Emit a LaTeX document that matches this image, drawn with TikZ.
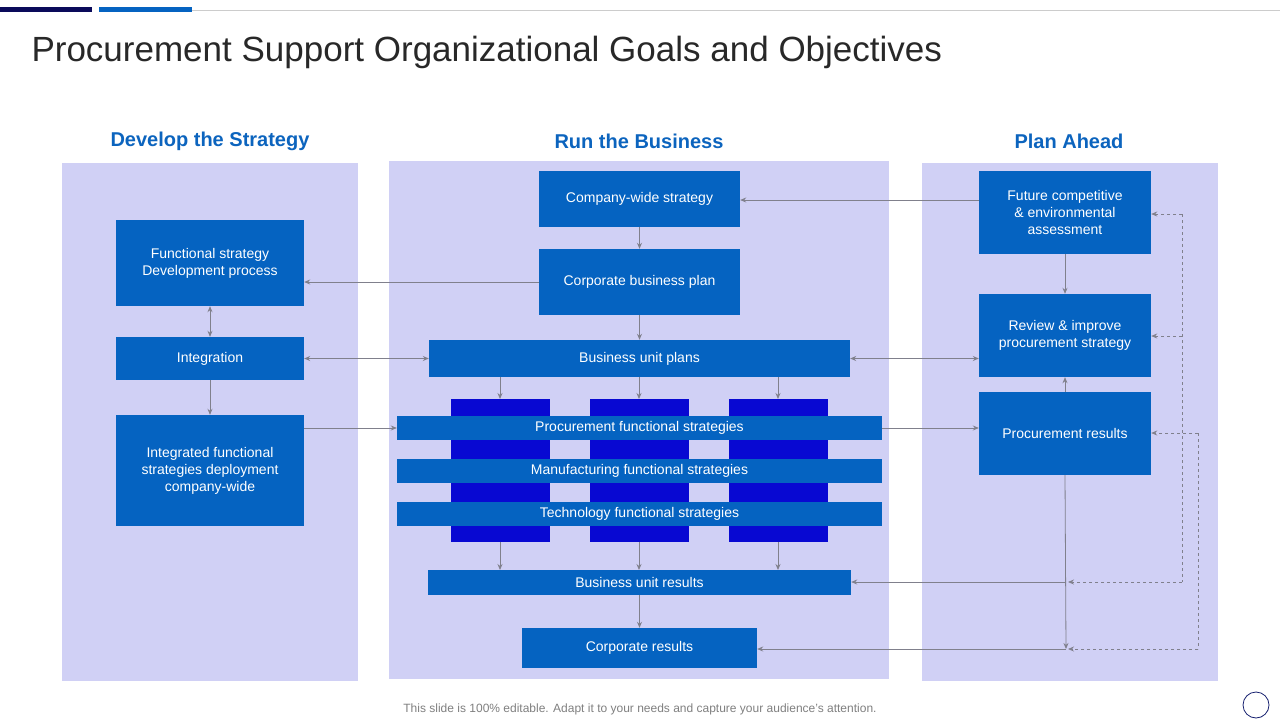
\documentclass[tikz,border=0pt]{standalone}
\usepackage{fontspec}
\setmainfont{Liberation Sans}
\usetikzlibrary{arrows.meta}
\definecolor{panel}{RGB}{208,208,245}
\definecolor{boxb}{RGB}{5,99,193}
\definecolor{colb}{RGB}{8,8,210}
\definecolor{head}{RGB}{12,100,190}
\definecolor{arr}{RGB}{128,128,140}
\newcommand{\bx}[7]{\node[#7, minimum width={#4-#2}, minimum height={#5-#3}] (#1) at ({(#2+#4)/2},{(#3+#5)/2}) {#6};}
\begin{document}
\begin{tikzpicture}[x=1pt,y=-1pt,
  bb/.style={fill=boxb, text=white, inner sep=0pt, align=center, font=\fontsize{14}{17}\selectfont},
  cb/.style={fill=colb, inner sep=0pt},
  pn/.style={fill=panel, inner sep=0pt},
  hd/.style={text=head, font=\fontsize{20}{24}\selectfont\bfseries},
  ar/.style={draw=arr, line width=0.8pt, -{Stealth[length=6pt,width=5pt]}},
  dar/.style={draw=arr, line width=0.8pt, {Stealth[length=6pt,width=5pt]}-{Stealth[length=6pt,width=5pt]}},
  da/.style={draw=arr, line width=0.8pt, dashed, -{Stealth[length=6pt,width=5pt]}},
  dl/.style={draw=arr, line width=0.8pt, dashed}]
\useasboundingbox (0,0) rectangle (1280,720);
\fill[white] (0,0) rectangle (1280,720);
% top bars
\fill[RGB/.style={}, fill={rgb,255:red,10;green,10;blue,90}] (0,7) rectangle (92,12);
\fill[boxb] (99,7) rectangle (192,12);
\draw[gray!40, line width=0.6pt] (192,10) -- (1280,10);
\node[anchor=west, font=\fontsize{35}{40}\selectfont, text={rgb,255:red,40;green,40;blue,40}] (title) at (28,52) {Procurement Support Organizational Goals and Objectives};
% panels
\bx{p1}{62}{163}{358}{681}{}{pn}
\bx{p2}{389}{161}{889}{679}{}{pn}
\bx{p3}{922}{163}{1218}{681}{}{pn}
\node[hd] (h1) at (210,141) {Develop the Strategy};
\node[hd] (h2) at (639,141) {Run the Business};
\node[hd] (h3) at (1069,141) {Plan Ahead};
% columns
\bx{c1}{451}{399}{550}{542}{}{cb}
\bx{c2}{590}{399}{689}{542}{}{cb}
\bx{c3}{729}{399}{828}{542}{}{cb}
% middle boxes
\bx{cws}{539}{171}{740}{227}{Company-wide strategy}{bb}
\bx{cbp}{539}{249}{740}{315}{Corporate business plan}{bb}
\bx{bup}{429}{340}{850}{377}{Business unit plans}{bb}
\bx{pfs}{397}{416}{882}{440}{Procurement functional strategies}{bb}
\bx{mfs}{397}{459}{882}{483}{Manufacturing functional strategies}{bb}
\bx{tfs}{397}{502}{882}{526}{Technology functional strategies}{bb}
\bx{bur}{428}{570}{851}{595}{Business unit results}{bb}
\bx{cr}{522}{628}{757}{668}{Corporate results}{bb}
% left boxes
\bx{fs}{116}{220}{304}{306}{Functional strategy\\Development process}{bb}
\bx{int}{116}{337}{304}{380}{Integration}{bb}
\bx{ifs}{116}{415}{304}{526}{Integrated functional\\strategies deployment\\company-wide}{bb}
% right boxes
\bx{fut}{979}{171}{1151}{254}{Future competitive\\\& environmental\\assessment}{bb}
\bx{rev}{979}{294}{1151}{377}{Review \& improve\\procurement strategy}{bb}
\bx{pr}{979}{392}{1151}{475}{Procurement results}{bb}
% arrows
\draw[ar] (fut.west |- 0,200) -- (cws.east |- 0,200);
\draw[ar] (cws) -- (cbp);
\draw[ar] (cbp.west) -- (fs.east |- cbp.west);
\draw[ar] (cbp) -- (bup);
\draw[dar] (fs) -- (int);
\draw[ar] (int) -- (ifs);
\draw[dar] (int.east) -- (bup.west |- int.east);
\draw[dar] (bup.east) -- (rev.west |- bup.east);
\foreach \x in {500,639,778}{
  \draw[ar] (\x,377) -- (\x,399);
  \draw[ar] (\x,542) -- (\x,570);
}
\draw[ar] (ifs.east |- pfs.west) -- (pfs.west);
\draw[ar] (pfs.east) -- (pr.west |- pfs.east);
\draw[ar] (bur) -- (cr);
\draw[ar] (fut) -- (rev);
\draw[ar] (pr) -- (rev);
\coordinate (j1) at (1066,582);
\coordinate (j2) at (1066,649);
\draw[ar] (pr.south) -- (j2);
\draw[ar] (j1) -- (bur.east |- j1);
\draw[ar] (j2) -- (cr.east |- j2);
% dashed loops
\coordinate (d1t) at (1182,214);
\coordinate (d1m) at (1182,336);
\coordinate (d1b) at (1182,582);
\draw[dl] (d1t) -- (d1b);
\draw[da] (d1t) -- (fut.east |- d1t);
\draw[da] (d1m) -- (rev.east |- d1m);
\draw[da] (d1b) -- ([xshift=2pt]j1);
\coordinate (d2t) at (1198,433);
\coordinate (d2b) at (1198,649);
\draw[dl] (d2t) -- (d2b);
\draw[da] (d2t) -- (pr.east |- d2t);
\draw[da] (d2b) -- ([xshift=2pt]j2);
% footer
\node[text=gray, font=\fontsize{12}{14}\selectfont] (ft) at (640,709) {This slide is 100\% editable. Adapt it to your needs and capture your audience's attention.};
\draw[draw={rgb,255:red,20;green,30;blue,110}, line width=0.8pt] (1256,705) circle (13);
\end{tikzpicture}
\end{document}
